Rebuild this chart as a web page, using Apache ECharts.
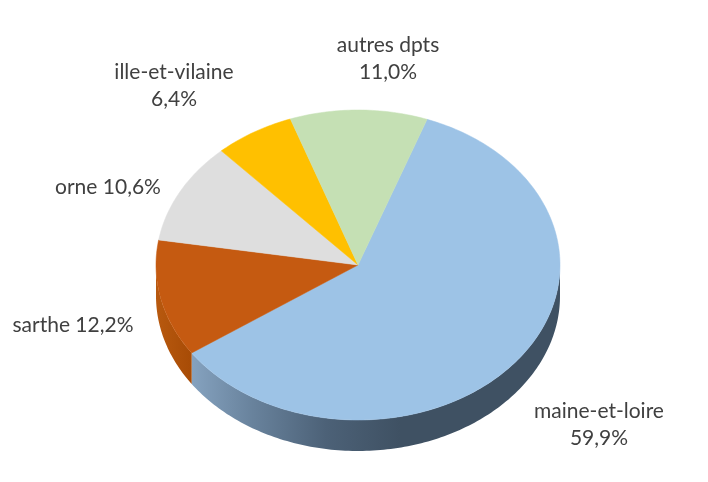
<!DOCTYPE html>
<html><head><meta charset="utf-8">
<style>html,body{margin:0;padding:0;background:#fff}#c{width:708px;height:482px}</style>
<script src="https://cdn.jsdelivr.net/npm/echarts@6/dist/echarts.min.js"></script>
</head><body><div id="c"></div>
<script>
const categories = ['maine-et-loire','sarthe','orne','ille-et-vilaine','autres dpts'];
const shares = [59.9,12.2,10.6,6.4,11.0];
const sliceColors = ['#9dc3e6','#c55a11','#dedede','#ffc000','#c5e0b4'];

const CX=358, CY=265, RX=202, RY=155, DEPTH=31, START=20;
const labelAnchors = [[599,425],[73,325],[108,187],[174,86],[388,59]];
const labelBreak = [true,false,false,true,true];
const total = shares.reduce((a,b)=>a+b,0);
const pt=(deg,dy)=>{const r=deg*Math.PI/180;return [CX+RX*Math.sin(r),CY-RY*Math.cos(r)+(dy||0)];};
const arc=(a,b,dy)=>{const out=[];const n=Math.max(2,Math.ceil(Math.abs(b-a)));for(let i=0;i<=n;i++)out.push(pt(a+(b-a)*i/n,dy));return out;};
const G=echarts.graphic.LinearGradient;
const sideFill=[
  new G(190,0,400,0,[{offset:0,color:'#86a3c0'},{offset:0.3,color:'#68829c'},{offset:0.65,color:'#4c6177'},{offset:1,color:'#3f5163'}],true),
  new G(156,0,190,0,[{offset:0,color:'#b8590f'},{offset:1,color:'#a84c06'}],true)
];
function renderItem(params,api){
  const i=params.dataIndex;
  let before=0;for(let k=0;k<i;k++)before+=shares[k];
  const a0=START+before/total*360, a1=a0+api.value(0)/total*360;
  const children=[];
  const s=Math.max(a0,90), e=Math.min(a1,270);
  if(e>s){
    children.push({type:'polygon',shape:{points:arc(s,e,0).concat(arc(e,s,DEPTH))},
      style:{fill:sideFill[i]||'#888'}});
  }
  children.push({type:'polygon',shape:{points:[[CX,CY]].concat(arc(a0,a1,0))},
    style:{fill:sliceColors[i],stroke:sliceColors[i],lineWidth:0.5}});
  const pct=api.value(0).toFixed(1).replace('.',',')+'%';
  const [lx,ly]=labelAnchors[i];
  children.push({type:'text',x:lx,y:ly,z2:10,style:{
    text:categories[i]+(labelBreak[i]?'\n':' ')+pct,
    font:'21px Lato',fill:'#404040',align:'center',verticalAlign:'middle',lineHeight:27}});
  return {type:'group',children};
}
const chart=echarts.init(document.getElementById('c'),null,{renderer:'canvas'});
chart.setOption({animation:false,backgroundColor:'#fff',
  series:[{type:'custom',coordinateSystem:'none',renderItem,
    data:shares.map((v,i)=>({name:categories[i],value:[v]}))}]});
</script></body></html>
